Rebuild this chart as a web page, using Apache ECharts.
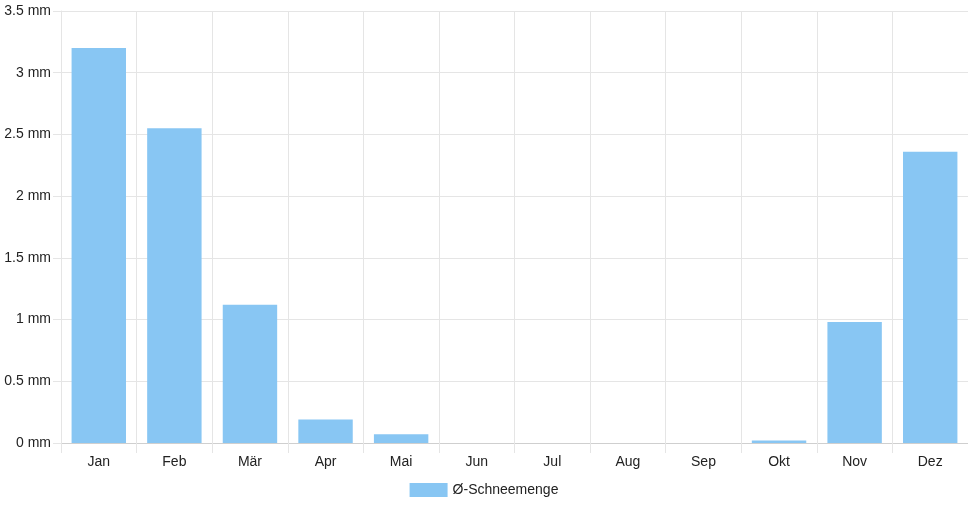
<!DOCTYPE html>
<html>
<head>
<meta charset="utf-8">
<script src="https://cdn.jsdelivr.net/npm/echarts@6/dist/echarts.min.js"></script>
<style>
    html, body {margin: 0; padding: 0; background: #fff;}
    #chart {width: 968px; height: 508px;}
</style>
</head>
<body>
<div id="chart"></div>
<script>
// Monatsnamen und mittlere Schneemenge (mm)
let months = ['Jan', 'Feb', 'Mär', 'Apr', 'Mai', 'Jun', 'Jul', 'Aug', 'Sep', 'Okt', 'Nov', 'Dez'];
let snow = [3.2, 2.55, 1.12, 0.19, 0.07, 0, 0, 0, 0, 0.02, 0.98, 2.36];
let seriesName = 'Ø-Schneemenge';

let textColor = '#222';
let gridColor = '#e5e5e5';
let axisColor = '#cfcfcf';
let barColor = '#88c6f3';

let myChart = echarts.init(document.getElementById('chart'));
myChart.setOption({
    animation: false,
    textStyle: {
        fontFamily: 'Liberation Sans, Arial, sans-serif'
    },
    grid: {
        left: 61,
        right: 0,
        top: 11,
        bottom: 65
    },
    legend: {
        left: 'center',
        top: 478,
        itemWidth: 38,
        itemHeight: 14,
        icon: 'rect',
        textStyle: {
            fontSize: 14,
            color: textColor
        },
        data: [seriesName]
    },
    xAxis: {
        type: 'category',
        data: months,
        axisLine: {lineStyle: {color: axisColor}},
        axisTick: {
            show: true,
            length: 10,
            lineStyle: {color: gridColor}
        },
        splitLine: {
            show: true,
            lineStyle: {color: gridColor}
        },
        axisLabel: {
            fontSize: 14,
            color: textColor,
            margin: 12
        }
    },
    yAxis: {
        type: 'value',
        min: 0,
        max: 3.5,
        interval: 0.5,
        axisLine: {
            show: true,
            lineStyle: {color: gridColor}
        },
        axisTick: {
            show: true,
            length: 8,
            lineStyle: {color: gridColor}
        },
        splitLine: {
            lineStyle: {color: gridColor}
        },
        axisLabel: {
            fontSize: 14,
            color: textColor,
            margin: 10,
            formatter: '{value} mm'
        }
    },
    series: [{
        name: seriesName,
        type: 'bar',
        data: snow,
        barWidth: '72%',
        itemStyle: {
            color: barColor
        }
    }]
});
</script>
</body>
</html>
